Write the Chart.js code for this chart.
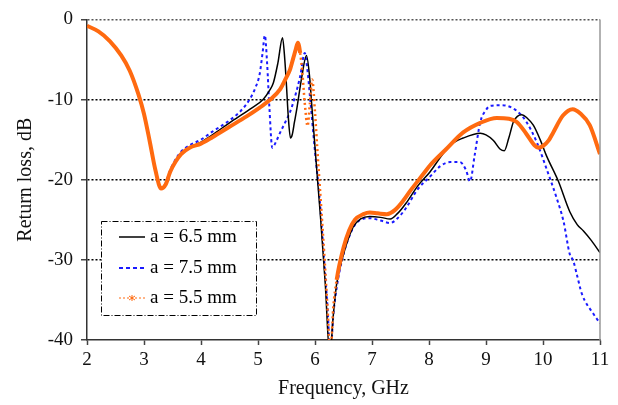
<!DOCTYPE html>
<html><head><meta charset="utf-8">
<script src="https://cdn.jsdelivr.net/npm/chart.js@4/dist/chart.umd.min.js"></script>
<style>html,body{margin:0;padding:0;background:#fff}#wrap{width:618px;height:405px}</style>
</head><body><div id="wrap"><canvas id="c" width="618" height="405"></canvas></div>
<script>
const seriesLabels = ['a = 6.5 mm', 'a = 7.5 mm', 'a = 5.5 mm'];
const xTicks = [2, 3, 4, 5, 6, 7, 8, 9, 10, 11];
const yTicks = [0, -10, -20, -30, -40];

const freqA65 = [2.0,2.2,2.4,2.6,2.75,2.9,3.0,3.1,3.2,3.3,3.38,3.46,3.55,3.65,3.8,4.0,4.2,4.5,4.86,5.09,5.2,5.27,5.35,5.43,5.47,5.5,5.53,5.57,5.6,5.64,5.68,5.77,5.85,5.91,5.94,6.02,6.1,6.18,6.26,6.32,6.38,6.5,6.67,6.8,6.96,7.15,7.32,7.45,7.6,7.8,8.02,8.2,8.37,8.6,8.9,9.0,9.13,9.25,9.32,9.4,9.48,9.55,9.63,9.72,9.83,9.95,10.06,10.27,10.47,10.6,10.71,10.85,11.0];
const lossA65 = [-0.8,-1.5,-2.7,-4.5,-6.4,-9.3,-11.8,-15.2,-18.8,-21.1,-20.6,-19.0,-17.8,-16.8,-16.0,-15.3,-14.4,-12.9,-11.2,-10.0,-8.9,-7.9,-5.4,-2.3,-5.0,-8.3,-12.0,-14.8,-14.4,-12.8,-11.2,-7.1,-4.5,-7.5,-10.4,-17.8,-25.0,-33.0,-42.0,-37.0,-33.0,-29.3,-25.9,-24.9,-24.6,-24.7,-24.9,-24.2,-22.9,-20.8,-19.0,-17.2,-15.7,-14.8,-14.2,-14.4,-15.1,-16.2,-16.4,-14.8,-12.8,-12.1,-11.9,-12.3,-13.2,-15.0,-17.0,-20.2,-24.0,-25.6,-26.4,-27.6,-29.1];

const freqA75 = [2.0,2.2,2.4,2.6,2.75,2.9,3.0,3.1,3.2,3.3,3.38,3.46,3.55,3.65,3.8,4.0,4.2,4.5,4.7,4.86,4.95,5.03,5.08,5.12,5.16,5.2,5.25,5.32,5.39,5.48,5.56,5.65,5.74,5.82,5.87,5.91,6.0,6.08,6.16,6.22,6.27,6.32,6.38,6.5,6.67,6.8,6.96,7.15,7.32,7.45,7.6,7.8,8.02,8.2,8.37,8.54,8.65,8.72,8.8,8.9,9.0,9.07,9.27,9.45,9.6,9.71,9.89,10.06,10.24,10.36,10.47,10.53,10.6,10.68,10.88,11.0];
const lossA75 = [-0.8,-1.5,-2.7,-4.5,-6.4,-9.3,-11.8,-15.2,-18.8,-21.1,-20.4,-18.8,-17.5,-16.5,-15.7,-15.0,-14.0,-12.6,-11.4,-9.9,-8.6,-6.8,-4.2,-2.0,-5.5,-11.0,-16.0,-15.2,-14.1,-12.8,-11.6,-9.6,-7.1,-4.2,-6.5,-9.5,-16.5,-22.3,-30.0,-36.0,-42.0,-37.0,-33.5,-29.3,-26.0,-25.0,-24.8,-25.1,-25.4,-24.8,-23.5,-21.2,-19.6,-18.3,-17.8,-17.8,-18.8,-20.2,-17.0,-12.8,-11.3,-10.8,-10.7,-11.0,-11.8,-12.8,-15.3,-18.6,-22.3,-25.2,-29.3,-30.1,-32.0,-34.2,-36.7,-37.9];

const freqA55 = [2.0,2.2,2.4,2.6,2.75,2.9,3.0,3.1,3.2,3.3,3.38,3.46,3.55,3.65,3.8,4.0,4.2,4.5,4.8,5.03,5.2,5.39,5.5,5.56,5.62,5.66,5.7,5.74,5.78,5.82,5.87,5.91,5.95,6.0,6.04,6.1,6.16,6.22,6.27,6.32,6.38,6.5,6.6,6.7,6.85,6.96,7.1,7.26,7.4,7.55,7.67,7.9,8.02,8.3,8.6,8.9,9.19,9.4,9.54,9.7,9.85,9.92,10.0,10.1,10.18,10.35,10.52,10.65,10.82,11.0];
const lossA55 = [-0.8,-1.5,-2.7,-4.5,-6.4,-9.3,-11.8,-15.2,-18.8,-21.1,-20.6,-19.0,-17.8,-16.8,-16.0,-15.5,-14.7,-13.4,-12.1,-11.0,-10.1,-8.7,-7.2,-6.3,-4.8,-3.8,-2.9,-4.2,-6.8,-10.4,-13.3,-10.5,-7.5,-11.6,-16.1,-22.5,-29.0,-36.0,-42.0,-36.0,-32.5,-28.5,-26.3,-25.0,-24.3,-24.1,-24.2,-24.3,-23.8,-22.6,-21.4,-19.3,-18.2,-16.2,-14.1,-12.9,-12.3,-12.4,-12.8,-14.2,-15.7,-16.0,-15.8,-15.1,-14.1,-12.0,-11.2,-11.7,-13.2,-16.8];

const toPts = (xs, ys) => xs.map((x, i) => ({x: x, y: ys[i]}));

const FONT = "'Liberation Serif', 'Times New Roman', serif";

const legendPlugin = {
  id: 'boxLegend',
  afterDraw(chart) {
    const ctx = chart.ctx;
    const x0 = 101, y0 = 221, w = 155, h = 94;
    ctx.save();
    ctx.fillStyle = '#fff';
    ctx.fillRect(x0, y0, w, h);
    ctx.strokeStyle = '#000';
    ctx.lineWidth = 1;
    ctx.setLineDash([6, 2, 1, 2]);
    ctx.strokeRect(x0 + 0.5, y0 + 0.5, w, h);
    const rows = [237, 268, 298];
    const styles = [
      {c: '#000', w: 1.5, d: []},
      {c: '#1a1aff', w: 2, d: [4, 3]},
      {c: '#ff6a10', w: 1, d: [2, 2]}
    ];
    chart.data.datasets.forEach((ds, i) => {
      const s = styles[i], y = rows[i];
      ctx.setLineDash(s.d);
      ctx.strokeStyle = s.c;
      ctx.lineWidth = s.w;
      ctx.beginPath(); ctx.moveTo(119, y); ctx.lineTo(145, y); ctx.stroke();
      if (i === 2) {
        ctx.setLineDash([]);
        ctx.lineWidth = 1;
        ctx.beginPath();
        ctx.moveTo(129, y - 2); ctx.lineTo(135, y + 2);
        ctx.moveTo(129, y + 2); ctx.lineTo(135, y - 2);
        ctx.moveTo(132, y - 3); ctx.lineTo(132, y + 3);
        ctx.stroke();
      }
      ctx.fillStyle = '#000';
      ctx.font = '19px ' + FONT;
      ctx.textBaseline = 'middle';
      ctx.textAlign = 'left';
      ctx.fillText(ds.label, 150, y);
    });
    ctx.restore();
  }
};

const rightBorder = {
  id: 'rightBorder',
  afterDatasetsDraw(chart) {
    const {ctx, chartArea: a} = chart;
    ctx.save();
    ctx.strokeStyle = '#999';
    ctx.lineWidth = 1.5;
    ctx.beginPath(); ctx.moveTo(a.right, a.top); ctx.lineTo(a.right, a.bottom); ctx.stroke();
    ctx.restore();
  }
};

const steepZone = c => c.p0.parsed.x >= 5.73 && c.p1.parsed.x <= 6.45;

new Chart(document.getElementById('c'), {
  type: 'line',
  data: {
    datasets: [
      {label: seriesLabels[0], data: toPts(freqA65, lossA65), borderColor: '#000', borderWidth: 1.5, order: 1},
      {label: seriesLabels[1], data: toPts(freqA75, lossA75), borderColor: '#1a1aff', borderWidth: 2, borderDash: [3, 3], order: 2},
      {label: seriesLabels[2], data: toPts(freqA55, lossA55), borderColor: '#ff6a10', borderWidth: 4, order: 0,
       segment: {
         borderWidth: c => steepZone(c) ? 2.5 : undefined,
         borderDash: c => steepZone(c) ? [2, 3] : undefined
       }}
    ]
  },
  options: {
    responsive: false,
    animation: false,
    devicePixelRatio: 1,
    layout: {padding: {top: 16, right: 18, left: 0, bottom: 0}},
    elements: {point: {radius: 0}, line: {cubicInterpolationMode: 'monotone', fill: false}},
    datasets: {line: {clip: 0}},
    plugins: {legend: {display: false}, tooltip: {enabled: false}},
    scales: {
      x: {
        type: 'linear', min: 2, max: 11,
        afterBuildTicks: s => { s.ticks = xTicks.map(v => ({value: v})); },
        afterFit: s => { s.height = 65; },
        grid: {drawOnChartArea: false, drawTicks: true, tickLength: 5, tickColor: '#444', tickWidth: 1.5},
        border: {display: true, color: '#333', width: 1.5},
        ticks: {color: '#111', font: {family: FONT, size: 19}, padding: 4, maxRotation: 0},
        title: {display: true, text: 'Frequency, GHz', color: '#111', font: {family: FONT, size: 20}, padding: {top: 0, bottom: 4}}
      },
      y: {
        type: 'linear', min: -40, max: 0,
        afterBuildTicks: s => { s.ticks = yTicks.map(v => ({value: v})); },
        afterFit: s => { s.width = 87; },
        grid: {
          drawOnChartArea: true, drawTicks: true, tickLength: 6, tickWidth: 1.5, tickColor: '#444',
          lineWidth: 1.5,
          color: c => c.tick && c.tick.value === -40 ? 'rgba(0,0,0,0)' : (c.tick && c.tick.value === 0 ? '#555' : '#000')
        },
        border: {display: true, color: '#333', width: 1.5, dash: [2, 2]},
        ticks: {color: '#111', font: {family: FONT, size: 19}, padding: 8},
        title: {display: true, text: 'Return loss, dB', color: '#111', font: {family: FONT, size: 20}, padding: {top: 14, bottom: 0}}
      }
    }
  },
  plugins: [rightBorder, legendPlugin]
});
</script>
</body></html>
